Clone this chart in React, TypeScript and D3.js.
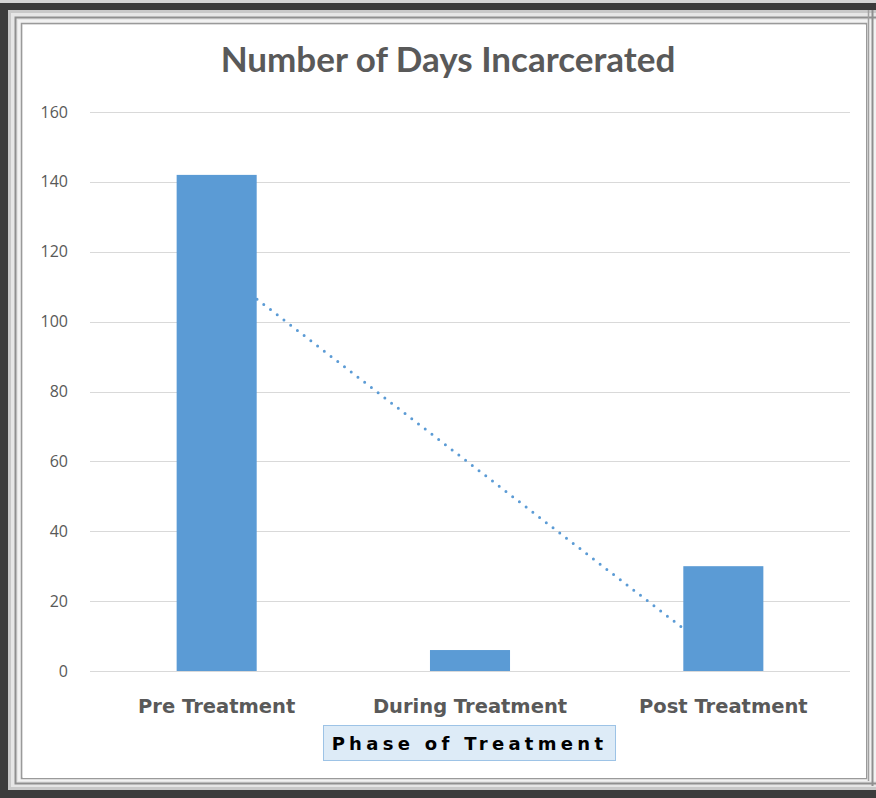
import React from "react";
import * as d3 from "d3";

const categories = ["Pre Treatment", "During Treatment", "Post Treatment"];
const values = [142, 6, 30];
const yTicks = [0, 20, 40, 60, 80, 100, 120, 140, 160];
const title = "Number of Days Incarcerated";
const xTitle = "Phase of Treatment";

const W = 876;
const H = 798;

export default function App() {
  const left = 90, right = 850, top = 112, bottom = 671;
  const x = d3.scaleBand<string>().domain(categories).range([left, right]).padding(0);
  const y = d3.scaleLinear().domain([0, 160]).range([bottom, top]);
  const barW = x.bandwidth() * 0.316;

  // linear trend line (least squares on index 1..n)
  const idx = values.map((_, i) => i + 1);
  const mx = d3.mean(idx)!;
  const my = d3.mean(values)!;
  const slope =
    d3.sum(idx.map((xi, i) => (xi - mx) * (values[i] - my))) /
    d3.sum(idx.map((xi) => (xi - mx) ** 2));
  const icpt = my - slope * mx;
  const trendPts: [number, number][] = categories.map((c, i) => [
    x(c)! + x.bandwidth() / 2,
    y(icpt + slope * (i + 1)),
  ]);
  const trend = d3.line()([trendPts[0], trendPts[trendPts.length - 1]]);

  return (
    <svg
      width={W}
      height={H}
      style={{ position: "absolute", left: 0, top: 0, display: "block" }}
    >
      {/* frame */}
      <rect x={0} y={0} width={W} height={H} fill="#d6d6d6" />
      <rect x={0} y={3} width={W} height={H - 3} fill="#3c3c3c" />
      <rect x={8} y={10} width={W - 8 + 10} height={780} fill="#c9c9c9" />
      <rect x={11} y={13} width={W} height={774} fill="#e6e6e6" />
      <rect x={15.5} y={17.5} width={W} height={766} fill="none" stroke="#8f8f8f" strokeWidth={2} />
      <rect x={18} y={20} width={W} height={761} fill="#f2f2f2" />
      <rect x={21.5} y={23.5} width={845} height={755} fill="none" stroke="#9a9a9a" strokeWidth={1.5} />
      <rect x={23} y={25} width={843} height={753} fill="#ffffff" />
      <line x1={868.5} y1={10} x2={868.5} y2={781} stroke="#a0a0a0" strokeWidth={1.5} />
      <line x1={872.5} y1={10} x2={872.5} y2={786} stroke="#8f8f8f" strokeWidth={2} />

      {/* title */}
      <text
        x={448}
        y={72}
        textAnchor="middle"
        fontFamily="Lato, 'Open Sans', sans-serif"
        fontWeight={700}
        fontSize={35}
        fill="#595959"
      >
        {title}
      </text>

      {/* gridlines */}
      {yTicks.map((t) => (
        <line
          key={t}
          x1={left}
          x2={right}
          y1={Math.round(y(t)) + 0.5}
          y2={Math.round(y(t)) + 0.5}
          stroke="#d9d9d9"
          strokeWidth={1}
        />
      ))}
      {yTicks.map((t) => (
        <text
          key={"l" + t}
          x={68}
          y={y(t)}
          dy="0.35em"
          textAnchor="end"
          fontFamily="'Open Sans', sans-serif"
          fontSize={16}
          fill="#595959"
        >
          {t}
        </text>
      ))}

      {/* trend line (behind bars) */}
      <path
        d={trend!}
        fill="none"
        stroke="#5b9bd5"
        strokeWidth={3}
        strokeLinecap="round"
        strokeDasharray="0 8.5"
      />

      {/* bars */}
      {categories.map((c, i) => (
        <rect
          key={c}
          x={x(c)! + (x.bandwidth() - barW) / 2}
          y={y(values[i])}
          width={barW}
          height={y(0) - y(values[i])}
          fill="#5b9bd5"
        />
      ))}

      {/* x labels */}
      {categories.map((c) => (
        <text
          key={"x" + c}
          x={x(c)! + x.bandwidth() / 2}
          y={713}
          textAnchor="middle"
          fontFamily="'DejaVu Sans', sans-serif"
          fontWeight={700}
          fontSize={19.5}
          fill="#595959"
        >
          {c}
        </text>
      ))}

      {/* x axis title box */}
      <rect x={323.5} y={725.5} width={292} height={35} fill="#ddebf7" stroke="#9dc3e6" strokeWidth={1} />
      <text
        x={469.5}
        y={750}
        textAnchor="middle"
        fontFamily="'DejaVu Sans', sans-serif"
        fontWeight={700}
        fontSize={18}
        letterSpacing={4.3}
        fill="#000000"
      >
        {xTitle}
      </text>
    </svg>
  );
}
